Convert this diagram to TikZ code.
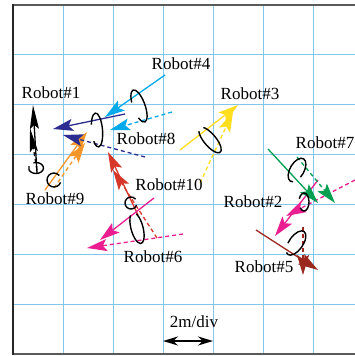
\documentclass[tikz,border=0pt]{standalone}
\usepackage{fontspec}
\setmainfont{Liberation Serif}
\usetikzlibrary{arrows.meta}
\definecolor{gridblue}{RGB}{130,198,236}
\definecolor{framegray}{RGB}{90,90,90}
\definecolor{rcyan}{RGB}{0,170,235}
\definecolor{rnavy}{RGB}{45,45,145}
\definecolor{rorange}{RGB}{245,150,40}
\definecolor{ryellow}{RGB}{255,222,30}
\definecolor{rred}{RGB}{215,55,40}
\definecolor{rmagenta}{RGB}{235,30,145}
\definecolor{rgreen}{RGB}{0,160,80}
\definecolor{rbrown}{RGB}{155,40,30}
\begin{document}
\begin{tikzpicture}[x=1pt,y=-1pt,
  gridline/.style={gridblue, line width=0.8pt},
  vel/.style={line width=1.3pt, -{Stealth[length=20pt,width=12pt,inset=4pt]}},
  cmd/.style={vel, dash pattern=on 4pt off 3pt},
  spin/.style={black, line width=1.4pt},
  lbl/.style={font=\fontsize{17}{17}\selectfont, inner sep=0pt, text=black},
]
\useasboundingbox (0,0) rectangle (355,356);
\fill[white] (0,0) rectangle (355,356);

% grid
\foreach \gx in {63,113,163,213,263,313} \draw[gridline] (\gx,5) -- (\gx,354);
\foreach \gy in {54,104,154,204,254,304} \draw[gridline] (13,\gy) -- (355,\gy);
% frame
\draw[framegray, line width=2pt] (13,5) -- (355,5);
\draw[framegray, line width=1.6pt] (13,354) -- (355,354);
\draw[black!85, line width=2pt] (13,4) -- (13,355);

% end points of the motion vectors
\coordinate (a1s) at (37,173);  \coordinate (a1t) at (33,105);
\coordinate (b1s) at (37,170);  \coordinate (b1t) at (30,128);
\coordinate (a9s) at (45,190);  \coordinate (a9t) at (87,132);
\coordinate (b9s) at (54,188);  \coordinate (b9t) at (85,143);
\coordinate (a8s) at (125,114); \coordinate (a8t) at (53,129);
\coordinate (b8s) at (145,157); \coordinate (b8t) at (63,135);
\coordinate (a4s) at (165,75);  \coordinate (a4t) at (105,117);
\coordinate (b4s) at (172,112); \coordinate (b4t) at (110,130);
\coordinate (a3s) at (180,150); \coordinate (a3t) at (238,105);
\coordinate (b3s) at (200,183); \coordinate (b3t) at (233,112);
\coordinate (a10s) at (138,215); \coordinate (a10t) at (108,152);
\coordinate (b10s) at (157,238); \coordinate (b10t) at (113,170);
\coordinate (a6s) at (154,198); \coordinate (a6t) at (100,240);
\coordinate (b6s) at (183,234); \coordinate (b6t) at (87,248);
\coordinate (a2s) at (318,180); \coordinate (a2t) at (275,236);
\coordinate (b2s) at (355,180); \coordinate (b2t) at (286,216);
\coordinate (a7s) at (268,149); \coordinate (a7t) at (318,203);
\coordinate (b7s) at (297,157); \coordinate (b7t) at (335,203);
\coordinate (a5s) at (256,230); \coordinate (a5t) at (318,270);
\coordinate (b5s) at (303,227); \coordinate (b5t) at (303,275);

% commanded (dashed) and actual (solid) vectors
\draw[cmd, black, -{Stealth[length=24pt,width=8pt,inset=4pt]}] (b1s) -- (b1t);
\draw[vel, black, -{Stealth[length=24pt,width=9pt,inset=4pt]}] (a1s) -- (a1t);
\draw[cmd, rorange] (b9s) -- (b9t);
\draw[vel, rorange] (a9s) -- (a9t);
\draw[cmd, rnavy] (b8s) -- (b8t);
\draw[vel, rnavy] (a8s) -- (a8t);
\draw[cmd, rcyan] (b4s) -- (b4t);
\draw[vel, rcyan] (a4s) -- (a4t);
\draw[cmd, ryellow] (b3s) -- (b3t);
\draw[vel, ryellow] (a3s) -- (a3t);
\draw[cmd, rred] (b10s) -- (b10t);
\draw[vel, rred] (a10s) -- (a10t);
\draw[cmd, rmagenta] (b6s) -- (b6t);
\draw[vel, rmagenta] (a6s) -- (a6t);
\draw[cmd, rmagenta] (b2s) -- (b2t);
\draw[vel, rmagenta] (a2s) -- (a2t);
\draw[cmd, rgreen] (b7s) -- (b7t);
\draw[vel, rgreen] (a7s) -- (a7t);
\draw[cmd, rbrown] (b5s) -- (b5t);
\draw[vel, rbrown] (a5s) -- (a5t);

% rotation loops
\draw[spin, shift={(36,168)}] (250:7.5 and 5.5) arc[start angle=250, end angle=560, x radius=7.5, y radius=5.5];
\draw[spin, shift={(54,180)}] (20:7 and 7) arc[start angle=20, end angle=320, x radius=7, y radius=7];
\draw[spin, shift={(97,130)}, rotate=5] (200:5.5 and 17) arc[start angle=200, end angle=500, x radius=5.5, y radius=17];
\draw[spin, shift={(139,106)}, rotate=20] (200:6 and 17) arc[start angle=200, end angle=500, x radius=6, y radius=17];
\draw[spin, shift={(210,140)}, rotate=40] (300:6 and 16) arc[start angle=-60, end angle=240, x radius=6, y radius=16];
\draw[spin, shift={(131,203)}] (20:6 and 6) arc[start angle=20, end angle=320, x radius=6, y radius=6];
\draw[spin, shift={(137,228)}, rotate=15] (300:6 and 16) arc[start angle=-60, end angle=240, x radius=6, y radius=16];
\draw[spin, shift={(297,170)}, rotate=-30] (70:7 and 13) arc[start angle=70, end angle=380, x radius=7, y radius=13];
\draw[spin, shift={(304,202)}] (200:5 and 9) arc[start angle=200, end angle=500, x radius=5, y radius=9];
\draw[spin, shift={(296,243)}, rotate=-35] (160:7 and 14) arc[start angle=160, end angle=470, x radius=7, y radius=14];

% labels
\node[lbl] (l1) at (51,93) {Robot\#1};
\node[lbl] (l4) at (181,64) {Robot\#4};
\node[lbl] (l3) at (250,94) {Robot\#3};
\node[lbl] (l8) at (146,139) {Robot\#8};
\node[lbl] (l7) at (325,143) {Robot\#7};
\node[lbl] (l9) at (55,199) {Robot\#9};
\node[lbl] (l10) at (169,185) {Robot\#10};
\node[lbl] (l2) at (253,202) {Robot\#2};
\node[lbl] (l6) at (153,257) {Robot\#6};
\node[lbl] (l5) at (264,267) {Robot\#5};
\node[lbl] (scale) at (194,322) {2m/div};

% scale bar
\coordinate (sbl) at (163,341);
\coordinate (sbr) at (213,341);
\draw[black, line width=2pt, {Stealth[length=15pt,width=9pt]}-{Stealth[length=15pt,width=9pt]}] (sbl) -- (sbr);
\end{tikzpicture}
\end{document}
